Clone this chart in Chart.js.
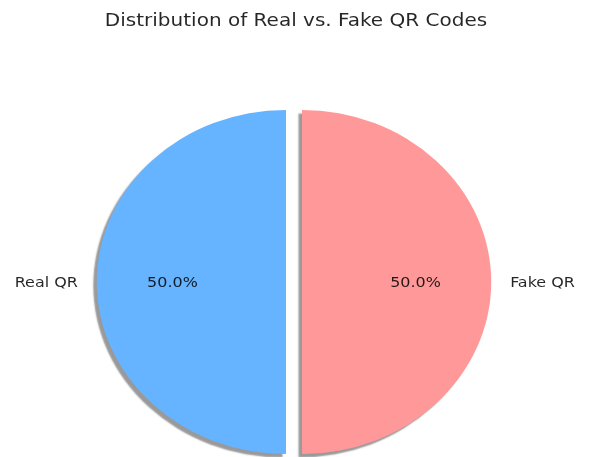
<!DOCTYPE html>
<html>
<head>
<meta charset="utf-8">
<script src="https://cdn.jsdelivr.net/npm/chart.js@4.4.1/dist/chart.umd.min.js"></script>
<style>
  html, body { margin: 0; padding: 0; background: #ffffff; }
  #wrap { width: 591px; height: 457px; position: relative; }
</style>
</head>
<body>
<div id="wrap"><canvas id="qrPie" width="591" height="457"></canvas></div>
<script>
// Data
const categories = ['Real QR', 'Fake QR'];
const counts = [50, 50];
const sliceColors = ['#66b3ff', '#ff9999'];
const chartTitle = 'Distribution of Real vs. Fake QR Codes';

// Presentation settings
const STRETCH_X = 1.1;          // horizontal aspect of the figure
const EXPLODE = 7.3;            // wedge pull-out distance along its middle angle
const PIE_RADIUS = 172;
const PCT_DIST = 0.6;
const LABEL_DIST = 1.1;
const FONT = "'DejaVu Sans', 'Liberation Sans', sans-serif";
const TEXT_COLOR = 'rgba(0,0,0,0.85)';

const total = counts.reduce((a, b) => a + b, 0);
const percentLabels = counts.map(v => (v / total * 100).toFixed(1) + '%');

function stretchedText(ctx, text, x, y, size, align) {
  ctx.save();
  ctx.translate(x, y);
  ctx.scale(STRETCH_X, 1);
  ctx.font = size + 'px ' + FONT;
  ctx.fillStyle = TEXT_COLOR;
  ctx.textAlign = align;
  ctx.textBaseline = 'alphabetic';
  ctx.fillText(text, 0, size * 0.36);
  ctx.restore();
}

// Draw the wedges stretched horizontally, pulled apart, with a drop shadow
const pieShape = {
  id: 'pieShape',
  beforeDatasetDraw(chart, args) {
    const arcs = chart.getDatasetMeta(args.index).data;
    if (!arcs.length) return false;
    const ctx = chart.ctx;
    const cx = arcs[0].x, cy = arcs[0].y;
    ctx.save();
    ctx.translate(cx, cy);
    ctx.scale(STRETCH_X, 1);
    ctx.translate(-cx, -cy);
    ctx.shadowColor = 'rgba(0,0,0,0.4)';
    ctx.shadowOffsetX = -3.5;
    ctx.shadowOffsetY = 3.5;
    ctx.shadowBlur = 1.5;
    arcs.forEach(arc => {
      const mid = (arc.startAngle + arc.endAngle) / 2;
      ctx.save();
      ctx.translate(Math.cos(mid) * EXPLODE, Math.sin(mid) * EXPLODE);
      arc.draw(ctx);
      ctx.restore();
    });
    ctx.restore();
    return false;
  }
};

// Category names outside the wedges, percentages inside, plus the title
const pieText = {
  id: 'pieText',
  afterDraw(chart) {
    const ctx = chart.ctx;
    const arcs = chart.getDatasetMeta(0).data;
    arcs.forEach((arc, i) => {
      const mid = (arc.startAngle + arc.endAngle) / 2;
      const cosM = Math.cos(mid), sinM = Math.sin(mid);
      const r = arc.outerRadius;
      const cx = arc.x + cosM * EXPLODE * STRETCH_X;
      const cy = arc.y + sinM * EXPLODE;
      stretchedText(ctx, percentLabels[i],
        cx + cosM * r * PCT_DIST * STRETCH_X, cy + sinM * r * PCT_DIST, 14.5, 'center');
      stretchedText(ctx, categories[i],
        cx + cosM * r * LABEL_DIST * STRETCH_X, cy + sinM * r * LABEL_DIST, 14.5,
        cosM < 0 ? 'right' : 'left');
    });
    ctx.save();
    ctx.translate(296, 26);
    ctx.scale(STRETCH_X, 1);
    ctx.font = '18.2px ' + FONT;
    ctx.fillStyle = TEXT_COLOR;
    ctx.textAlign = 'center';
    ctx.textBaseline = 'alphabetic';
    ctx.fillText(chartTitle, 0, 0);
    ctx.restore();
  }
};

new Chart(document.getElementById('qrPie'), {
  type: 'pie',
  data: {
    labels: categories,
    datasets: [{
      data: counts,
      backgroundColor: sliceColors,
      borderWidth: 0,
      hoverOffset: 0,
      clip: false
    }]
  },
  options: {
    responsive: false,
    animation: false,
    rotation: 180,
    radius: PIE_RADIUS,
    layout: { padding: { left: 10, right: 13, top: 113, bottom: 6 } },
    plugins: {
      legend: { display: false },
      title: { display: false },
      tooltip: { enabled: false }
    },
    events: []
  },
  plugins: [pieShape, pieText]
});
</script>
</body>
</html>
